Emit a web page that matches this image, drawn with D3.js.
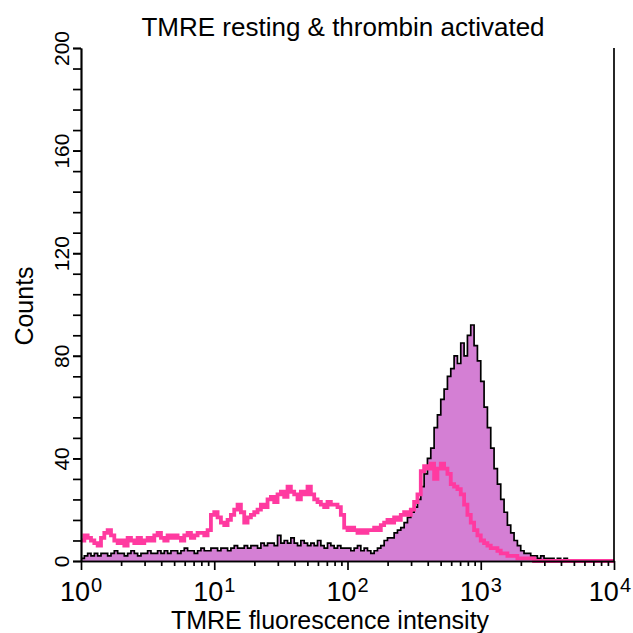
<!DOCTYPE html>
<html>
<head>
<meta charset="utf-8">
<script src="https://cdn.jsdelivr.net/npm/d3@7"></script>
<style>
  body { margin: 0; background: #fff; }
  svg text { font-family: "Liberation Sans", Arial, sans-serif; fill: #000; }
</style>
</head>
<body>
<div id="vis"></div>
<script>

// frame constants
const FRAME_WIDTH = 633;
const FRAME_HEIGHT = 633;
const MARGINS = {left: 81, right: 19, top: 48, bottom: 72};

const VIS_WIDTH = FRAME_WIDTH - MARGINS.left - MARGINS.right;
const VIS_HEIGHT = FRAME_HEIGHT - MARGINS.top - MARGINS.bottom;

// histogram channels: 40 log channels per decade, 10^0 .. 10^4
const CHANNELS_PER_DECADE = 40;

// resting platelets (filled histogram), counts per channel
const resting = [
  1, 2, 3, 2, 3, 2, 3, 3, 2, 3,   4, 3, 3, 2, 3, 4, 3, 2, 3, 3,
  4, 3, 3, 4, 3, 4, 3, 4, 4, 3,   4, 5, 4, 4, 3, 4, 5, 4, 4, 5,
  5, 4, 5, 5, 4, 5, 6, 5, 5, 6,   5, 6, 6, 5, 7, 6, 7, 7, 6, 10,
  7, 8, 7, 9, 7, 6, 8, 7, 6, 7,   6, 8, 6, 5, 7, 6, 5, 6, 5, 5,
  5, 4, 5, 6, 4, 5, 4, 3, 4, 5,   6, 8, 9, 9, 11, 12, 13, 15, 17, 19,
  21, 24, 29, 34, 40, 44, 52, 57, 63, 67,   72, 75, 80, 77, 85, 80, 88, 92, 84, 78,
  70, 60, 52, 44, 36, 30, 24, 19, 14, 11,   8, 6, 4, 3, 3, 2, 2, 1, 2, 1,
  1, 1, 0, 1, 0, 1, 0, 0, 0, 0,   0, 0, 0, 0, 0, 0, 0, 0, 0, 0
];

// thrombin activated platelets (pink line), counts per channel
const thrombin = [
  8, 10, 9, 8, 7, 6, 9, 11, 12, 10,   8, 7, 8, 6, 9, 8, 7, 9, 7, 8,
  9, 8, 10, 11, 9, 8, 10, 9, 10, 9,   8, 10, 11, 9, 10, 11, 11, 10, 12, 18,
  19, 17, 15, 14, 16, 18, 20, 22, 19, 15,   17, 18, 19, 20, 22, 21, 24, 25, 23, 26,
  27, 25, 29, 27, 26, 24, 27, 26, 29, 26,   24, 23, 22, 21, 23, 22, 22, 21, 18, 13,
  12, 13, 12, 11, 12, 11, 12, 12, 13, 12,   14, 15, 16, 15, 17, 16, 18, 19, 18, 20,
  23, 26, 35, 37, 36, 38, 32, 36, 38, 36,   34, 30, 29, 28, 26, 22, 18, 15, 12, 10,
  8, 7, 6, 5, 5, 4, 3, 3, 2, 2,   2, 1, 1, 1, 1, 1, 0, 0, 0, 0,
  0, 0, 0, 0, 0, 0, 0, 0, 0, 0,   0, 0, 0, 0, 0, 0, 0, 0, 0, 0
];

// tick labels
const Y_TICKS = [0, 40, 80, 120, 160, 200];
const Y_MINOR_STEP = 8;
const X_DECADES = [0, 1, 2, 3, 4];

const FRAME = d3.select("#vis")
                .append("svg")
                  .attr("width", FRAME_WIDTH)
                  .attr("height", FRAME_HEIGHT);

const PLOT = FRAME.append("g")
                  .attr("transform", "translate(" + MARGINS.left + "," + MARGINS.top + ")");

// scales
const X_SCALE = d3.scaleLog()
                  .domain([1, 1e4])
                  .range([0, VIS_WIDTH]);
const Y_SCALE = d3.scaleLinear()
                  .domain([0, 200])
                  .range([VIS_HEIGHT, 0]);

// turn channel counts into step points (lower edge of each channel)
function toBins(counts) {
  const pts = counts.map((c, i) => ({x: Math.pow(10, i / CHANNELS_PER_DECADE), y: c}));
  pts.push({x: 1e4, y: counts[counts.length - 1]});
  return pts;
}

const restingBins = toBins(resting);
const thrombinBins = toBins(thrombin);

const area = d3.area()
               .x((d) => X_SCALE(d.x))
               .y0(Y_SCALE(0))
               .y1((d) => Y_SCALE(d.y))
               .curve(d3.curveStepAfter);

const line = d3.line()
               .x((d) => X_SCALE(d.x))
               .y((d) => Y_SCALE(d.y))
               .curve(d3.curveStepAfter);

// filled resting histogram
PLOT.append("path")
    .datum(restingBins)
    .attr("d", area)
    .attr("fill", "#d47fd4");

PLOT.append("path")
    .datum(restingBins)
    .attr("d", line)
    .attr("fill", "none")
    .attr("stroke", "#000")
    .attr("stroke-width", 1.7);

// thrombin line
PLOT.append("path")
    .datum(thrombinBins)
    .attr("d", line)
    .attr("fill", "none")
    .attr("stroke", "#ff3aa0")
    .attr("stroke-width", 3.8);

// y axis, major + minor ticks
PLOT.append("g")
    .call(d3.axisLeft(Y_SCALE).tickValues(d3.range(0, 201, Y_MINOR_STEP))
            .tickSize(8).tickSizeOuter(0).tickFormat(""))
    .call((g) => g.selectAll("path, line").attr("stroke-width", 1.7));

const yAxis = PLOT.append("g")
    .call(d3.axisLeft(Y_SCALE).tickValues(Y_TICKS).tickSize(8).tickSizeOuter(0))
    .attr("font-size", 21);
yAxis.selectAll("path, line").attr("stroke-width", 1.7);
yAxis.selectAll("text")
     .attr("transform", "rotate(-90)")
     .attr("x", 0)
     .attr("y", -12)
     .attr("dy", 0)
     .attr("text-anchor", "middle");

// x axis, log ticks
const xMinor = [];
X_DECADES.slice(0, -1).forEach((k) => {
  for (let m = 2; m < 10; m++) xMinor.push(m * Math.pow(10, k));
});

PLOT.append("g")
    .attr("transform", "translate(0," + VIS_HEIGHT + ")")
    .call(d3.axisBottom(X_SCALE).tickValues(xMinor).tickSize(5).tickSizeOuter(0).tickFormat(""))
    .call((g) => g.selectAll("path, line").attr("stroke-width", 1.7));

const xAxis = PLOT.append("g")
    .attr("transform", "translate(0," + VIS_HEIGHT + ")")
    .call(d3.axisBottom(X_SCALE).tickValues(X_DECADES.map((k) => Math.pow(10, k)))
            .tickSize(9).tickSizeOuter(0).tickFormat(""));
xAxis.selectAll("path, line").attr("stroke-width", 1.7);

// decade labels 10^k, whole label centred on its tick
X_DECADES.forEach((k) => {
  const cx = X_SCALE(Math.pow(10, k));
  const base = PLOT.append("text")
      .attr("y", VIS_HEIGHT + 40)
      .attr("font-size", 27)
      .text("10");
  const expo = PLOT.append("text")
      .attr("y", VIS_HEIGHT + 31)
      .attr("font-size", 20)
      .text(k);
  const wb = base.node().getComputedTextLength();
  const we = expo.node().getComputedTextLength();
  let x0 = cx - (wb + we + 1) / 2;
  x0 = Math.min(x0, FRAME_WIDTH - MARGINS.left - 2 - (wb + we + 1));
  base.attr("x", x0);
  expo.attr("x", x0 + wb + 1);
});

// right border
PLOT.append("line")
    .attr("x1", VIS_WIDTH).attr("x2", VIS_WIDTH)
    .attr("y1", 0).attr("y2", VIS_HEIGHT)
    .attr("stroke", "#000")
    .attr("stroke-width", 1.7);

// title and axis titles
FRAME.append("text")
     .attr("x", 343)
     .attr("y", 36)
     .attr("text-anchor", "middle")
     .attr("font-size", 26)
     .text("TMRE resting & thrombin activated");

FRAME.append("text")
     .attr("transform", "translate(33,306) rotate(-90)")
     .attr("text-anchor", "middle")
     .attr("font-size", 25)
     .text("Counts");

FRAME.append("text")
     .attr("x", 330)
     .attr("y", 629)
     .attr("text-anchor", "middle")
     .attr("font-size", 25)
     .text("TMRE fluorescence intensity");

</script>
</body>
</html>
